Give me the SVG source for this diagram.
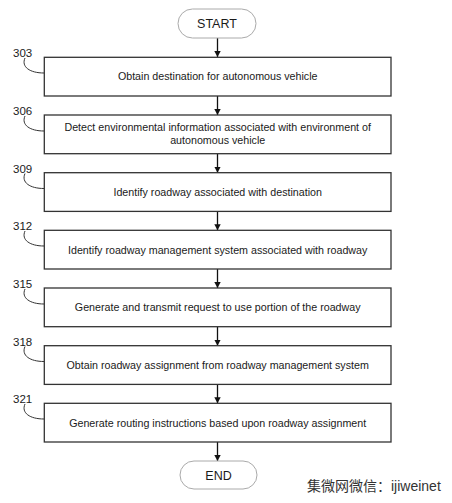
<svg xmlns="http://www.w3.org/2000/svg" width="452" height="503" viewBox="0 0 452 503">
<style>
.box{fill:#fff;stroke:#333;stroke-width:1.3}
.term{fill:#fff;stroke:#aaa;stroke-width:1}
.t{font-family:"Liberation Sans",Arial,sans-serif;font-size:10.7px;fill:#1a1a1a;text-anchor:middle}
.tt{font-family:"Liberation Sans",Arial,sans-serif;font-size:12.5px;fill:#1a1a1a;text-anchor:middle}
.num{font-family:"Liberation Sans",Arial,sans-serif;font-size:11.5px;fill:#1a1a1a}
.lead{fill:none;stroke:#333;stroke-width:1}
.arr{stroke:#111;stroke-width:1.3;fill:none;marker-end:url(#ah)}
.wm{font-family:"Liberation Sans","Noto Sans CJK SC",sans-serif;font-size:14px;fill:#333}
</style>
<defs>
<marker id="ah" markerWidth="8" markerHeight="8" refX="6" refY="4" orient="auto" markerUnits="userSpaceOnUse">
<path d="M0,0.8 L6,4 L0,7.2 Z" fill="#111"/>
</marker>
</defs>
<rect width="452" height="503" fill="#fff"/>
<g id="connectors">
<line class="arr" x1="217.5" y1="38" x2="217.5" y2="57"/>
<line class="arr" x1="217.5" y1="96" x2="217.5" y2="115"/>
<line class="arr" x1="217.5" y1="154" x2="217.5" y2="172.7"/>
<line class="arr" x1="217.5" y1="211.4" x2="217.5" y2="230.3"/>
<line class="arr" x1="217.5" y1="269" x2="217.5" y2="288"/>
<line class="arr" x1="217.5" y1="326.7" x2="217.5" y2="345.7"/>
<line class="arr" x1="217.5" y1="384.4" x2="217.5" y2="403.3"/>
<line class="arr" x1="217.5" y1="442" x2="217.5" y2="461"/>
</g>
<g id="start">
<rect class="term" x="178" y="9" width="78" height="29" rx="14.5"/>
<text class="tt" x="217" y="28">START</text>
</g>
<g id="n303">
<rect class="box" x="44.3" y="57.3" width="346.7" height="38.7"/>
<text class="t" x="217.7" y="80">Obtain destination for autonomous vehicle</text>
<text class="num" x="13" y="57">303</text>
<path class="lead" d="M25,58 C21,67 30,73 44,73"/>
</g>
<g id="n306">
<rect class="box" x="44.3" y="115" width="346.7" height="38.7"/>
<text class="t" x="217.7" y="131">Detect environmental information associated with environment of</text>
<text class="t" x="217.7" y="143.5">autonomous vehicle</text>
<text class="num" x="13" y="115">306</text>
<path class="lead" d="M25,116 C21,125 30,131 44,131"/>
</g>
<g id="n309">
<rect class="box" x="44.3" y="172.7" width="346.7" height="38.7"/>
<text class="t" x="217.7" y="195.5">Identify roadway associated with destination</text>
<text class="num" x="13" y="172.5">309</text>
<path class="lead" d="M25,173.5 C21,182.5 30,188.5 44,188.5"/>
</g>
<g id="n312">
<rect class="box" x="44.3" y="230.3" width="346.7" height="38.7"/>
<text class="t" x="217.7" y="253.5">Identify roadway management system associated with roadway</text>
<text class="num" x="13" y="230">312</text>
<path class="lead" d="M25,231 C21,240 30,246 44,246"/>
</g>
<g id="n315">
<rect class="box" x="44.3" y="288" width="346.7" height="38.7"/>
<text class="t" x="217.7" y="311">Generate and transmit request to use portion of the roadway</text>
<text class="num" x="13" y="288">315</text>
<path class="lead" d="M25,289 C21,298 30,304 44,304"/>
</g>
<g id="n318">
<rect class="box" x="44.3" y="345.7" width="346.7" height="38.7"/>
<text class="t" x="217.7" y="368.5">Obtain roadway assignment from roadway management system</text>
<text class="num" x="13" y="345.5">318</text>
<path class="lead" d="M25,346.5 C21,355.5 30,361.5 44,361.5"/>
</g>
<g id="n321">
<rect class="box" x="44.3" y="403.3" width="346.7" height="38.7"/>
<text class="t" x="217.7" y="426.5">Generate routing instructions based upon roadway assignment</text>
<text class="num" x="13" y="403">321</text>
<path class="lead" d="M25,404 C21,413 30,419 44,419"/>
</g>
<g id="end">
<rect class="term" x="180" y="461" width="77" height="28" rx="14"/>
<text class="tt" x="218.5" y="479.5">END</text>
</g>
<text class="wm" x="307" y="491">集微网微信：ijiweinet</text>
</svg>
